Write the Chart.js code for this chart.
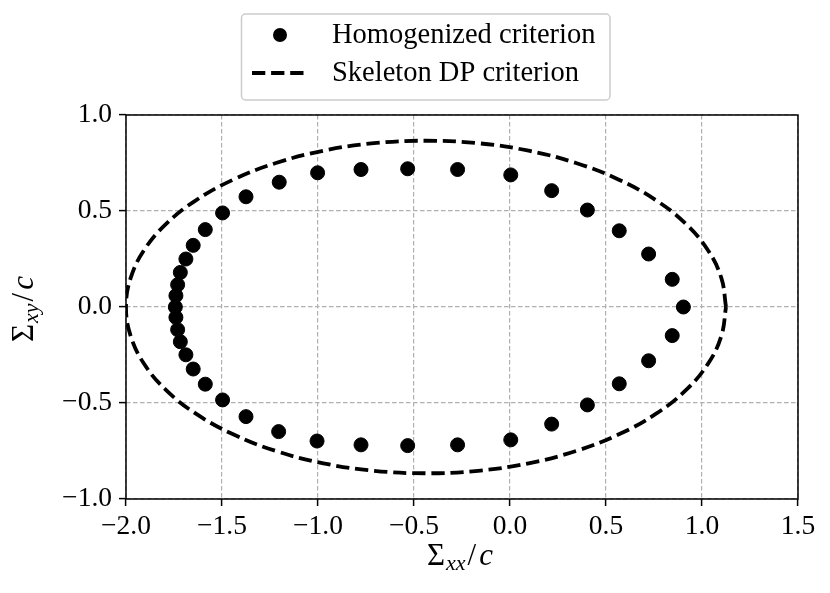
<!DOCTYPE html>
<html>
<head>
<meta charset="utf-8">
<script src="https://cdn.jsdelivr.net/npm/chart.js@4/dist/chart.umd.min.js"></script>
<style>
  html, body { margin: 0; padding: 0; background: #fff; }
  #wrap { width: 830px; height: 593px; position: relative; }
</style>
</head>
<body>
<div id="wrap"><canvas id="chart"></canvas></div>
<script>
// Homogenized criterion (dots)
var homX = [0.903, 0.845, 0.722, 0.569, 0.403, 0.217, 0.004, -0.273, -0.533, -0.776, -1.002,
            -1.202, -1.375, -1.497, -1.587, -1.650, -1.688, -1.717, -1.731, -1.740, -1.743,
            -1.740, -1.731, -1.717, -1.688, -1.650, -1.587, -1.497, -1.375, -1.205, -1.005,
            -0.776, -0.533, -0.273, 0.004, 0.217, 0.403, 0.569, 0.722, 0.845];
var homY = [0.000, 0.144, 0.276, 0.397, 0.505, 0.606, 0.688, 0.716, 0.720, 0.716, 0.699,
            0.650, 0.574, 0.490, 0.403, 0.321, 0.250, 0.180, 0.116, 0.059, 0.000,
            -0.054, -0.118, -0.181, -0.249, -0.323, -0.402, -0.484, -0.571, -0.649, -0.698,
            -0.718, -0.722, -0.718, -0.692, -0.610, -0.510, -0.400, -0.280, -0.149];

// Skeleton DP criterion (dashed closed curve)
var dpX = [1.125, 1.101, 1.031, 0.916, 0.759, 0.567, 0.344, 0.097, -0.166, -0.438,
           -0.709, -0.972, -1.219, -1.442, -1.634, -1.791, -1.906, -1.976, -2.000,
           -1.976, -1.906, -1.791, -1.634, -1.442, -1.219, -0.972, -0.709, -0.438,
           -0.166, 0.097, 0.344, 0.567, 0.759, 0.916, 1.031, 1.101, 1.125];
var dpY = [0.000, 0.150, 0.296, 0.433, 0.557, 0.663, 0.750, 0.814, 0.853, 0.866,
           0.853, 0.814, 0.750, 0.663, 0.557, 0.433, 0.296, 0.150, 0.000,
           -0.150, -0.296, -0.433, -0.557, -0.663, -0.750, -0.814, -0.853, -0.866,
           -0.853, -0.814, -0.750, -0.663, -0.557, -0.433, -0.296, -0.150, 0.000];

var seriesNames = ['Homogenized criterion', 'Skeleton DP criterion'];
var xTicks = [-2.0, -1.5, -1.0, -0.5, 0.0, 0.5, 1.0, 1.5];
var yTicks = [-1.0, -0.5, 0.0, 0.5, 1.0];

var SERIF = '"Liberation Serif", "DejaVu Serif", serif';
var DASH = [13.3, 5.8];

function toPoints(xs, ys) {
    return xs.map(function(x, i) { return {x: x, y: ys[i]}; });
}

function fmt(v) {
    return (v < 0 ? '\u2212' : '') + Math.abs(v).toFixed(1);
}

// draws e.g. Σ_xx/c with a real subscript, centred on cx
function drawMath(ctx, parts, cx, baseY) {
    var total = 0;
    parts.forEach(function(p) {
        ctx.font = (p.italic ? 'italic ' : '') + p.size + 'px ' + SERIF;
        p.w = ctx.measureText(p.t).width;
        total += p.w + (p.gap || 0);
    });
    var x = cx - total / 2;
    ctx.textAlign = 'left';
    ctx.textBaseline = 'alphabetic';
    parts.forEach(function(p) {
        ctx.font = (p.italic ? 'italic ' : '') + p.size + 'px ' + SERIF;
        ctx.fillText(p.t, x, baseY + (p.dy || 0));
        x += p.w + (p.gap || 0);
    });
}

function labelParts(sub) {
    return [
        {t: '\u03A3', size: 31, gap: 1},
        {t: sub, size: 22, italic: true, dy: 5, gap: 2},
        {t: '/', size: 31, gap: 3},
        {t: 'c', size: 31, italic: true}
    ];
}

var decorations = {
    id: 'decorations',
    afterDraw: function(chart) {
        var ctx = chart.ctx;
        var a = chart.chartArea;
        ctx.save();

        // frame
        ctx.strokeStyle = '#000';
        ctx.lineWidth = 1.5;
        ctx.strokeRect(a.left, a.top, a.right - a.left, a.bottom - a.top);

        // axis titles
        ctx.fillStyle = '#000';
        drawMath(ctx, labelParts('xx'), 460, 565);
        ctx.save();
        ctx.translate(33, 309);
        ctx.rotate(-Math.PI / 2);
        drawMath(ctx, labelParts('xy'), 0, 0);
        ctx.restore();

        // legend
        ctx.beginPath();
        ctx.roundRect(241.5, 14, 368.5, 86, 4);
        ctx.fillStyle = 'rgba(255,255,255,0.8)';
        ctx.fill();
        ctx.strokeStyle = '#cccccc';
        ctx.lineWidth = 1.5;
        ctx.stroke();

        ctx.fillStyle = '#000';
        ctx.beginPath();
        ctx.arc(280, 35, 7, 0, Math.PI * 2);
        ctx.fill();

        ctx.strokeStyle = '#000';
        ctx.lineWidth = 3.8;
        ctx.setLineDash(DASH);
        ctx.beginPath();
        ctx.moveTo(252, 73);
        ctx.lineTo(309, 73);
        ctx.stroke();
        ctx.setLineDash([]);

        ctx.font = '28.5px ' + SERIF;
        ctx.textAlign = 'left';
        ctx.textBaseline = 'middle';
        ctx.fillText(seriesNames[0], 332, 36);
        ctx.fillText(seriesNames[1], 332, 74);

        ctx.restore();
    }
};

new Chart(document.getElementById('chart'), {
    type: 'scatter',
    data: {
        datasets: [{
            label: seriesNames[0],
            data: toPoints(homX, homY),
            backgroundColor: '#000',
            borderColor: '#000',
            pointRadius: 7,
            pointHoverRadius: 7,
            order: 1
        }, {
            label: seriesNames[1],
            data: toPoints(dpX, dpY),
            showLine: true,
            borderColor: '#000',
            borderWidth: 3.8,
            borderDash: DASH,
            pointRadius: 0,
            tension: 0.4,
            fill: false,
            order: 2
        }]
    },
    options: {
        responsive: true,
        maintainAspectRatio: false,
        animation: false,
        layout: { padding: { left: 0, right: 32, top: 115, bottom: 0 } },
        plugins: {
            legend: { display: false },
            tooltip: { enabled: false }
        },
        scales: {
            x: {
                type: 'linear',
                min: -2.0,
                max: 1.5,
                afterFit: function(scale) { scale.height = 94; },
                afterBuildTicks: function(scale) {
                    scale.ticks = xTicks.map(function(v) { return {value: v}; });
                },
                ticks: {
                    color: '#000',
                    padding: 4,
                    maxRotation: 0,
                    font: { family: SERIF, size: 27.5 },
                    callback: function(v) { return fmt(v); }
                },
                grid: {
                    color: '#b0b0b0',
                    lineWidth: 1.2,
                    tickLength: 7,
                    tickColor: '#000',
                    tickWidth: 1.5
                },
                border: { display: false, dash: [4.5, 2.5] }
            },
            y: {
                type: 'linear',
                min: -1.0,
                max: 1.0,
                afterFit: function(scale) { scale.width = 126; },
                afterBuildTicks: function(scale) {
                    scale.ticks = yTicks.map(function(v) { return {value: v}; });
                },
                ticks: {
                    color: '#000',
                    padding: 7,
                    font: { family: SERIF, size: 27.5 },
                    callback: function(v) { return fmt(v); }
                },
                grid: {
                    color: '#b0b0b0',
                    lineWidth: 1.2,
                    tickLength: 7,
                    tickColor: '#000',
                    tickWidth: 1.5
                },
                border: { display: false, dash: [4.5, 2.5] }
            }
        }
    },
    plugins: [decorations]
});
</script>
</body>
</html>
